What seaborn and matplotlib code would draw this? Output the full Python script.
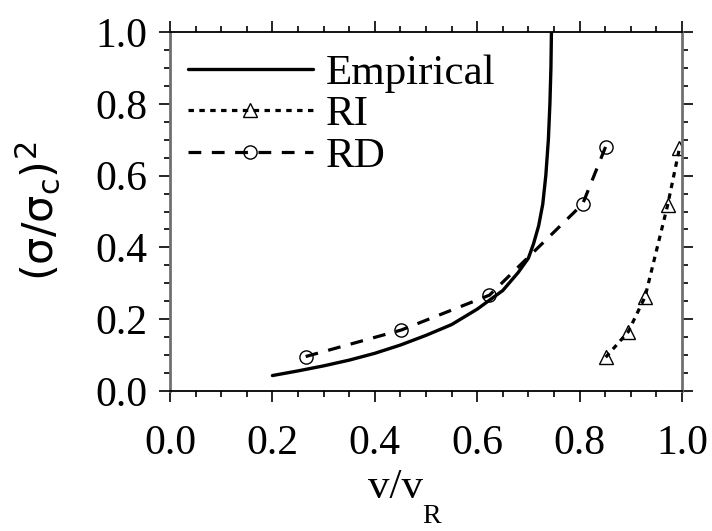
import numpy as np
import pandas as pd
import matplotlib
matplotlib.use('Agg')
import matplotlib.pyplot as plt
import seaborn as sns
from matplotlib.ticker import MultipleLocator

# Data
emp_x = [0.20, 0.25, 0.30, 0.35, 0.40, 0.45, 0.50, 0.55, 0.60, 0.65, 0.68, 0.70,
         0.71, 0.72, 0.728, 0.734, 0.739, 0.742, 0.744, 0.745]
emp_y = [0.043, 0.056, 0.070, 0.086, 0.105, 0.128, 0.155, 0.185, 0.228, 0.280, 0.330, 0.370,
         0.410, 0.460, 0.520, 0.600, 0.700, 0.800, 0.900, 1.000]

ri_x = [0.851, 0.895, 0.928, 0.972, 0.995]
ri_y = [0.094, 0.165, 0.263, 0.518, 0.676]

rd_x = [0.265, 0.452, 0.624, 0.806, 0.851]
rd_y = [0.096, 0.170, 0.267, 0.521, 0.681]

x_ticks = [0.0, 0.2, 0.4, 0.6, 0.8, 1.0]
y_ticks = [0.0, 0.2, 0.4, 0.6, 0.8, 1.0]

sns.set_style('ticks')
plt.rcParams['font.family'] = ['Liberation Serif', 'DejaVu Sans']
plt.rcParams['font.size'] = 30
plt.rcParams['text.color'] = 'black'
plt.rcParams['axes.labelcolor'] = 'black'
plt.rcParams['xtick.color'] = 'black'
plt.rcParams['ytick.color'] = 'black'

fig = plt.figure(figsize=(7.12, 5.31), dpi=100)
ax = fig.add_axes([170 / 712, 1 - 391 / 531, 512 / 712, 359 / 531])

sns.lineplot(x=emp_x, y=emp_y, ax=ax, color='black', lw=2.4, sort=False,
             label='Empirical')
sns.lineplot(x=ri_x, y=ri_y, ax=ax, color='black', lw=2.3, sort=False,
             linestyle=(0, (1.7, 1.7)), marker='^', markersize=10.5,
             markerfacecolor='none', markeredgecolor='black', markeredgewidth=1.0,
             label='RI')
sns.lineplot(x=rd_x, y=rd_y, ax=ax, color='black', lw=2.3, sort=False,
             linestyle=(0, (4, 3.3)), marker='o', markersize=9.5,
             markerfacecolor='none', markeredgecolor='black', markeredgewidth=1.0,
             label='RD')

ax.set_xlim(0, 1.0)
ax.set_ylim(0, 1.0)
ax.set_xticks(x_ticks)
ax.set_yticks(y_ticks)
ax.set_xticklabels([f'{v:.1f}' for v in x_ticks])
ax.set_yticklabels([f'{v:.1f}' for v in y_ticks])
ax.xaxis.set_minor_locator(MultipleLocator(0.05))
ax.yaxis.set_minor_locator(MultipleLocator(0.05))

ax.tick_params(which='both', direction='out', top=True, right=True,
               labeltop=False, labelright=False, color='black', width=1.2)
ax.tick_params(which='major', length=8, labelsize=30, labelcolor='black')
ax.tick_params(axis='x', which='major', pad=16)
ax.tick_params(axis='y', which='major', pad=8)
ax.tick_params(which='minor', length=4)

for side in ['top', 'bottom']:
    ax.spines[side].set_color('black')
    ax.spines[side].set_linewidth(1.3)
for side in ['left', 'right']:
    ax.spines[side].set_color('#707070')
    ax.spines[side].set_linewidth(2.0)

# x label: "v/v" with a deeply dropped subscript R
ax.text(0.494, -0.298, 'v/v', transform=ax.transAxes, ha='right', va='baseline',
        fontsize=31, color='black')
ax.text(0.492, -0.368, 'R', transform=ax.transAxes, ha='left', va='baseline',
        fontsize=20, color='black')

ax.set_ylabel(r'$(\mathrm{\sigma}/\mathrm{\sigma}_\mathrm{c})^2$', fontsize=31,
              math_fontfamily='dejavusans', color='black')
ax.yaxis.set_label_coords(-0.211, 0.5)

leg = ax.legend(loc='upper left', bbox_to_anchor=(18 / 512, 1 - 22 / 359),
                frameon=False, fontsize=31, handlelength=2.9, handletextpad=0.31,
                labelspacing=0.05, borderpad=0, borderaxespad=0, numpoints=1)
for t in leg.get_texts():
    t.set_color('black')

fig.savefig('out.png', dpi=100)
